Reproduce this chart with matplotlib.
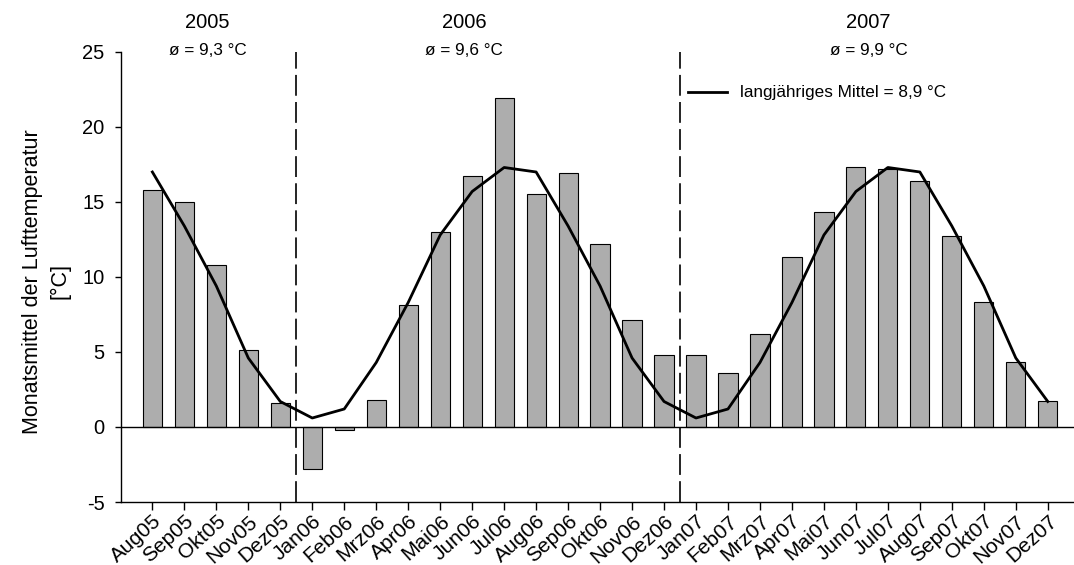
import matplotlib
matplotlib.use("Agg")
import matplotlib.pyplot as plt
import numpy as np

plt.rcParams['font.family'] = ['Liberation Sans', 'DejaVu Sans']
plt.rcParams['lines.scale_dashes'] = False
plt.rcParams['axes.unicode_minus'] = False

# Monthly labels (Aug 2005 - Dec 2007)
months = ["Aug05", "Sep05", "Okt05", "Nov05", "Dez05",
          "Jan06", "Feb06", "Mrz06", "Apr06", "Mai06", "Jun06", "Jul06",
          "Aug06", "Sep06", "Okt06", "Nov06", "Dez06",
          "Jan07", "Feb07", "Mrz07", "Apr07", "Mai07", "Jun07", "Jul07",
          "Aug07", "Sep07", "Okt07", "Nov07", "Dez07"]

# Monthly mean air temperature [°C]
temperature = [15.8, 15.0, 10.8, 5.1, 1.6,
               -2.8, -0.2, 1.8, 8.1, 13.0, 16.7, 21.9,
               15.5, 16.9, 12.2, 7.1, 4.8,
               4.8, 3.6, 6.2, 11.3, 14.3, 17.3, 17.2,
               16.4, 12.7, 8.3, 4.3, 1.7]

# Long-term monthly means, Jan..Dec [°C]
longterm_monthly = [0.6, 1.2, 4.3, 8.3, 12.8, 15.7, 17.3, 17.0, 13.4, 9.4, 4.6, 1.7]
first_month = 7  # August (0-based)

years = ["2005", "2006", "2007"]
year_means = ["ø = 9,3 °C", "ø = 9,6 °C", "ø = 9,9 °C"]
year_centers = [1.72, 9.75, 22.4]
year_breaks = [4.5, 16.5]

x = np.arange(len(months))
longterm = [longterm_monthly[(first_month + i) % 12] for i in range(len(months))]

fig = plt.figure(figsize=(10.74, 5.65), dpi=100)
ax = fig.add_axes([0.1124, 0.1115, 0.8876, 0.7965])

ax.bar(x, temperature, width=0.6, color="#adadad", edgecolor="black",
       linewidth=0.8, zorder=2)
ax.axhline(0, color="black", linewidth=1.0, zorder=3)
ax.plot(x, longterm, color="black", linewidth=2.0, zorder=4,
        label="langjähriges Mittel = 8,9 °C")

for xb in year_breaks:
    ax.plot([xb, xb], [-5, 25], color="black", linewidth=1.2,
            dashes=(15, 4.5), zorder=3)

for xc, yr, ym in zip(year_centers, years, year_means):
    ax.text(xc, 26.6, yr, ha="center", va="baseline", fontsize=14.5,
            clip_on=False)
    ax.text(xc, 24.8, ym, ha="center", va="baseline", fontsize=12.3,
            clip_on=False)

ax.set_xlim(-0.99, 28.82)
ax.set_ylim(-5, 25)
ax.set_yticks([-5, 0, 5, 10, 15, 20, 25])
ax.set_xticks(x)
ax.set_xticklabels(months, rotation=42, ha="right", va="top",
                   rotation_mode="anchor", fontsize=15)
ax.tick_params(axis="y", labelsize=14.5, length=4.5, width=1.0, pad=7,
               direction="out")
ax.tick_params(axis="x", length=5.5, width=1.0, pad=1.5, direction="out")

for side in ("top", "right"):
    ax.spines[side].set_visible(False)
for side in ("left", "bottom"):
    ax.spines[side].set_linewidth(1.0)

ax.set_ylabel("Monatsmittel der Lufttemperatur\n[°C]", fontsize=15.5,
              linespacing=1.35)
ax.yaxis.set_label_coords(-0.053, 0.49)

leg = ax.legend(loc="center left", bbox_to_anchor=(688 / 1074, 1 - 93 / 565),
                bbox_transform=fig.transFigure, frameon=False,
                fontsize=12.3, handlelength=2.3, handletextpad=0.75,
                borderpad=0, borderaxespad=0)

fig.savefig("out.png", dpi=100)
